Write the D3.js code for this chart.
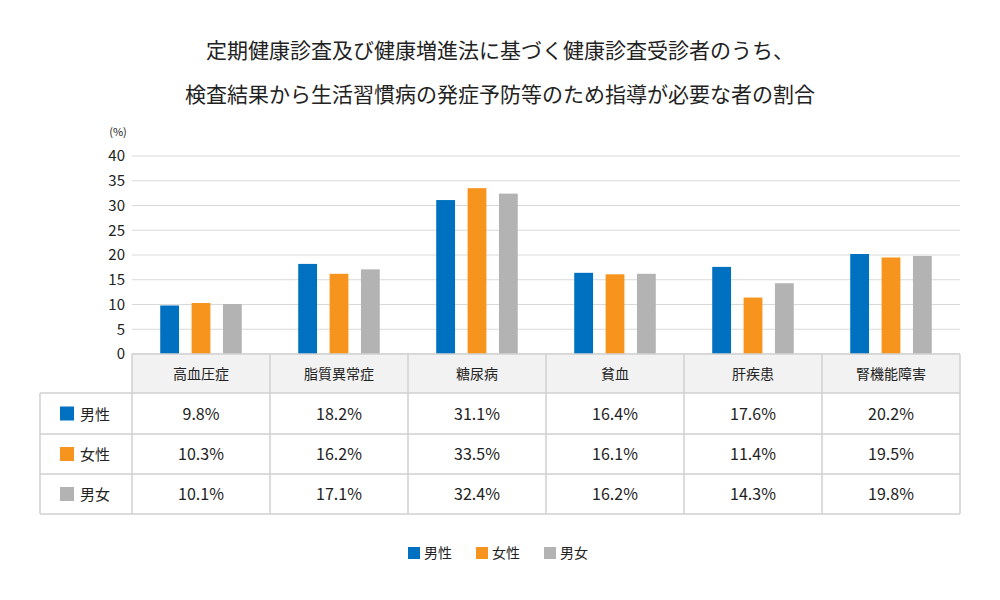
<!DOCTYPE html>
<html>
<head>
<meta charset="utf-8">
<script src="https://d3js.org/d3.v7.min.js"></script>
<style>
  body { margin: 0; background: #fff; }
  text { font-family: "Noto Sans CJK JP", "Noto Sans", sans-serif; fill: #222; }
  .axis path, .axis line { display: none; }
  .axis text { font-size: 15px; }
</style>
</head>
<body>
<svg id="chart" width="1000" height="600"></svg>
<script>
const categories = ["高血圧症", "脂質異常症", "糖尿病", "貧血", "肝疾患", "腎機能障害"];
const series = [
  { name: "男性", color: "#0070c0", values: [9.8, 18.2, 31.1, 16.4, 17.6, 20.2] },
  { name: "女性", color: "#f7941d", values: [10.3, 16.2, 33.5, 16.1, 11.4, 19.5] },
  { name: "男女", color: "#b3b3b3", values: [10.1, 17.1, 32.4, 16.2, 14.3, 19.8] }
];

const svg = d3.select("#chart");
const plotLeft = 132, plotRight = 960, plotTop = 156, plotBottom = 354;
const rowH = [39, 41, 40, 40];

const x = d3.scaleBand().domain(categories).range([plotLeft, plotRight]);
const xs = d3.scaleBand().domain(series.map(s => s.name)).range([0, x.bandwidth()]).paddingInner(0.4).paddingOuter(0.9);
const y = d3.scaleLinear().domain([0, 40]).range([plotBottom, plotTop]);

// title
svg.append("text").attr("x", 500).attr("y", 58).attr("text-anchor", "middle").style("font-size", "21px")
  .text("定期健康診査及び健康増進法に基づく健康診査受診者のうち、");
svg.append("text").attr("x", 500).attr("y", 102).attr("text-anchor", "middle").style("font-size", "21px")
  .text("検査結果から生活習慣病の発症予防等のため指導が必要な者の割合");

// grid
svg.append("g").selectAll("line").data(y.ticks(8)).enter().append("line")
  .attr("x1", plotLeft).attr("x2", plotRight).attr("y1", d => y(d)).attr("y2", d => y(d))
  .attr("stroke", "#d9d9d9");

svg.append("g").attr("class", "axis").attr("transform", `translate(${plotLeft - 4},0)`)
  .call(d3.axisLeft(y).ticks(8).tickSize(0));
svg.append("text").attr("x", 118).attr("y", 136).attr("text-anchor", "middle").style("font-size", "11px").text("(%)");

// bars
series.forEach(s => {
  svg.append("g").selectAll("rect").data(s.values).enter().append("rect")
    .attr("x", (d, i) => x(categories[i]) + xs(s.name))
    .attr("width", xs.bandwidth())
    .attr("y", d => y(d))
    .attr("height", d => y(0) - y(d))
    .attr("fill", s.color);
});

// table
const tbl = svg.append("g");
const rowY = [plotBottom];
rowH.forEach(h => rowY.push(rowY[rowY.length - 1] + h));
tbl.append("rect").attr("x", plotLeft).attr("y", rowY[0]).attr("width", plotRight - plotLeft).attr("height", rowH[0]).attr("fill", "#f2f2f2");
const lineC = "#d0d0d0";
rowY.forEach((yy, i) => {
  tbl.append("line").attr("x1", i === 0 ? plotLeft : 40).attr("x2", plotRight).attr("y1", yy).attr("y2", yy).attr("stroke", lineC).attr("stroke-width", 1.5);
});
tbl.append("line").attr("x1", 40).attr("x2", 40).attr("y1", rowY[1]).attr("y2", rowY[4]).attr("stroke", lineC).attr("stroke-width", 1.5);
categories.forEach(c => {
  tbl.append("line").attr("x1", x(c)).attr("x2", x(c)).attr("y1", rowY[0]).attr("y2", rowY[4]).attr("stroke", lineC).attr("stroke-width", 1.5);
});
tbl.append("line").attr("x1", plotRight).attr("x2", plotRight).attr("y1", rowY[0]).attr("y2", rowY[4]).attr("stroke", lineC).attr("stroke-width", 1.5);

categories.forEach(c => {
  tbl.append("text").attr("x", x(c) + x.bandwidth() / 2).attr("y", (rowY[0] + rowY[1]) / 2 + 5)
    .attr("text-anchor", "middle").style("font-size", "14px").text(c);
});
series.forEach((s, r) => {
  const cy = (rowY[r + 1] + rowY[r + 2]) / 2;
  tbl.append("rect").attr("x", 60).attr("y", cy - 7).attr("width", 14).attr("height", 14).attr("fill", s.color);
  tbl.append("text").attr("x", 80).attr("y", cy + 6).style("font-size", "15px").text(s.name);
  s.values.forEach((v, i) => {
    tbl.append("text").attr("x", x(categories[i]) + x.bandwidth() / 2).attr("y", cy + 6)
      .attr("text-anchor", "middle").style("font-size", "16px").text(v.toFixed(1) + "%");
  });
});

// legend
const lg = svg.append("g").selectAll("g").data(series).enter().append("g")
  .attr("transform", (d, i) => `translate(${408 + i * 68},553)`);
lg.append("rect").attr("x", 0).attr("y", -6).attr("width", 12).attr("height", 12).attr("fill", d => d.color);
lg.append("text").attr("x", 16).attr("y", 5).style("font-size", "14px").text(d => d.name);
</script>
</body>
</html>
